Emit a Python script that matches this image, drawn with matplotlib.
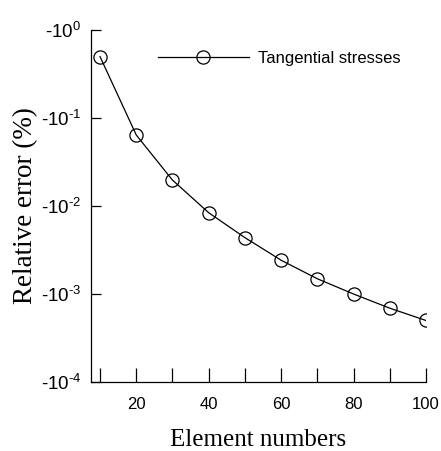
import matplotlib
matplotlib.use("Agg")
import matplotlib.pyplot as plt
import numpy as np
from matplotlib.ticker import FixedLocator, FuncFormatter, NullLocator

# data (relative error, negative values)
element_numbers = [10, 20, 30, 40, 50, 60, 70, 80, 90, 100]
rel_error = [-0.498, -0.0641, -0.0197, -0.00839, -0.00437,
             -0.00242, -0.00149, -0.00100, -0.00069, -0.00050]
y_decades = [-4, -3, -2, -1, 0]
x_ticks = [10, 20, 30, 40, 50, 60, 70, 80, 90, 100]
x_labeled = [20, 40, 60, 80, 100]

plt.rcParams["font.family"] = "Liberation Sans"
plt.rcParams["mathtext.fontset"] = "custom"
plt.rcParams["mathtext.rm"] = "Liberation Sans"
plt.rcParams["mathtext.it"] = "Liberation Sans"

fig = plt.figure(figsize=(4.41, 4.51), dpi=100)
ax = fig.add_axes([0.2063, 0.153, 0.7596, 0.7805])

mag = -np.array(rel_error)
ax.plot(element_numbers, mag, color="black", linewidth=0.9, marker="o",
        markersize=9.5, markerfacecolor="none", markeredgecolor="black",
        markeredgewidth=0.9, label="Tangential stresses")

ax.set_yscale("log")
ax.set_ylim(1e-4, 1e0)
ax.set_xlim(7.5, 100)


def ylab(v, p):
    k = int(round(np.log10(v)))
    e = r"\text{-}%d" % -k if k < 0 else "%d" % k
    return r"$\text{-}10^{%s}$" % e


ax.yaxis.set_major_locator(FixedLocator([10.0 ** k for k in y_decades]))
ax.yaxis.set_minor_locator(NullLocator())
ax.yaxis.set_major_formatter(FuncFormatter(ylab))

ax.xaxis.set_major_locator(FixedLocator(x_ticks))
ax.xaxis.set_major_formatter(
    FuncFormatter(lambda v, p: "%d" % v if int(round(v)) in x_labeled else ""))

for s in ["top", "right"]:
    ax.spines[s].set_visible(False)
for s in ["left", "bottom"]:
    ax.spines[s].set_linewidth(0.9)

ax.tick_params(axis="y", direction="in", length=7, width=0.9, pad=7, labelsize=13.5)
ax.tick_params(axis="x", direction="in", length=10, width=0.9, pad=11, labelsize=12)

ax.set_xlabel("Element numbers", family="Liberation Serif", fontsize=18, labelpad=12)
ax.set_ylabel("Relative error (%)", family="Liberation Serif", fontsize=19.5, labelpad=2)

ax.legend(loc="upper left", bbox_to_anchor=(0.2, 0.941), frameon=False,
          borderaxespad=0, borderpad=0, fontsize=12, handlelength=5.45,
          handletextpad=0.55, numpoints=1)

fig.savefig("out.png", dpi=100)
